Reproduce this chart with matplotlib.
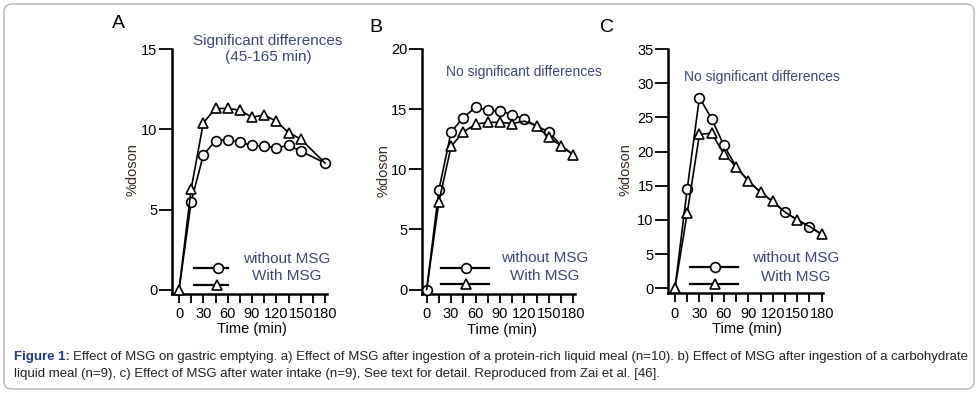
import numpy as np
import matplotlib.pyplot as plt
from matplotlib.patches import FancyBboxPatch
from matplotlib.ticker import MultipleLocator

plt.rcParams['font.family'] = ['Liberation Sans', 'DejaVu Sans']

# time points (min)
times = [0, 15, 30, 45, 60, 75, 90, 105, 120, 135, 150, 165, 180]
times_a = [0, 15, 30, 45, 60, 75, 90, 105, 120, 135, 150, 180]

# A: protein-rich liquid meal
a_without = [0, 5.5, 8.4, 9.3, 9.35, 9.2, 9.0, 8.95, 8.85, 9.0, 8.65, 7.9]
a_with = [0, 6.3, 10.4, 11.3, 11.3, 11.2, 10.75, 10.9, 10.5, 9.8, 9.4, 7.9]

# B: carbohydrate liquid meal
b_without = [0, 8.3, 13.1, 14.3, 15.15, 14.9, 14.85, 14.55, 14.15, 13.6, 13.1, 11.95, 11.2]
b_with = [0, 7.3, 11.9, 13.1, 13.75, 13.9, 13.9, 13.8, 14.0, 13.6, 12.65, 11.95, 11.2]

# C: water
c_without = [0, 14.5, 27.9, 24.8, 20.9, 17.8, 15.7, 14.05, 12.7, 11.1, 10.05, 9.0, 7.9]
c_with = [0, 11.0, 22.5, 22.7, 19.65, 17.8, 15.7, 14.05, 12.7, 11.15, 10.0, 9.05, 7.9]

x_ticks = [0, 30, 60, 90, 120, 150, 180]
series_names = ['without MSG', 'With MSG']

txt_col = '#3c4872'
lab_col = '#3d2b22'

fig = plt.figure(figsize=(9.78, 3.96), dpi=100)

# rounded grey frame
fig.patches.append(FancyBboxPatch((4 / 978, 7 / 396), 970 / 978, 385 / 396,
                                  boxstyle='round,pad=0,rounding_size=0.008',
                                  transform=fig.transFigure, fill=False,
                                  ec='#b4b4b4', lw=1.0, mutation_aspect=978 / 396))

panels = [
    dict(letter='A', rect=[0.1759, 0.2588, 0.1585, 0.6174], xlim=(-8.6, 182.5), ylim=(-0.22, 15),
         yticks=[0, 5, 10, 15], t_wo=times_a, wo=a_without, t_w=times_a, w=a_with,
         show_wo=list(range(1, 12)), show_w=list(range(0, 11)),
         note='Significant differences\n(45-165 min)', note_xy=(0.62, 1.0), note_size=11,
         leg_line=(0.14, 0.363), leg_y=(0.103, 0.035), leg_mk=(0.299, 0.289),
         leg_tx=0.74, leg_ty=(0.143, 0.07), ylab_x=-0.252, xlab_x=0.516,
         letter_xy=(118, 24)),
    dict(letter='B', rect=[0.4312, 0.2576, 0.1567, 0.6187], xlim=(-6.1, 182), ylim=(-0.37, 20),
         yticks=[0, 5, 10, 15, 20], t_wo=times, wo=b_without, t_w=times, w=b_with,
         show_wo=[0, 1, 2, 3, 4, 5, 6, 7, 8, 10], show_w=[1, 2, 3, 4, 5, 6, 7, 9, 10, 11, 12],
         note='No significant differences', note_xy=(0.667, 0.906), note_size=10,
         leg_line=(0.123, 0.437), leg_y=(0.107, 0.041), leg_mk=(0.29, 0.29),
         leg_tx=0.805, leg_ty=(0.146, 0.073), ylab_x=-0.25, xlab_x=0.522,
         letter_xy=(376, 27)),
    dict(letter='C', rect=[0.6833, 0.2593, 0.1579, 0.6169], xlim=(-8.2, 181.2), ylim=(-0.73, 35),
         yticks=[0, 5, 10, 15, 20, 25, 30, 35], t_wo=times, wo=c_without, t_w=times, w=c_with,
         show_wo=[1, 2, 3, 4, 9, 11], show_w=[0, 1, 2, 3, 4, 5, 6, 7, 8, 10, 12],
         note='No significant differences', note_xy=(0.607, 0.885), note_size=10,
         leg_line=(0.138, 0.449), leg_y=(0.109, 0.038), leg_mk=(0.302, 0.302),
         leg_tx=0.823, leg_ty=(0.143, 0.068), ylab_x=-0.28, xlab_x=0.508,
         letter_xy=(607, 28)),
]

mk = dict(color='black', lw=1.2, mfc='white', mec='black', mew=1.2, ms=7)

for p in panels:
    ax = fig.add_axes(p['rect'])
    ax.plot(p['t_wo'], p['wo'], marker='o', markevery=p['show_wo'], zorder=3, clip_on=False, **mk)
    ax.plot(p['t_w'], p['w'], marker='^', markevery=p['show_w'], zorder=4, clip_on=False, **mk)

    ax.set_xlim(p['xlim'])
    ax.set_ylim(p['ylim'])
    ax.set_xticks(x_ticks)
    ax.xaxis.set_minor_locator(MultipleLocator(15))
    ax.set_yticks(p['yticks'])
    for s in ['top', 'right']:
        ax.spines[s].set_visible(False)
    for s in ['left', 'bottom']:
        ax.spines[s].set_linewidth(1.8)
    ax.tick_params(axis='x', which='both', length=6.5, width=1.3, pad=3, labelsize=10.5)
    ax.tick_params(axis='y', length=9.5, width=1.3, pad=1, labelsize=10.5)

    ax.set_ylabel('%doson', fontsize=10.5, color=lab_col, va='center')
    ax.yaxis.set_label_coords(p['ylab_x'], 0.505)
    ax.set_xlabel('Time (min)', fontsize=10.5, va='center')
    ax.xaxis.set_label_coords(p['xlab_x'], -0.145)

    ax.text(p['note_xy'][0], p['note_xy'][1], p['note'], transform=ax.transAxes,
            ha='center', va='center', fontsize=p['note_size'], color=txt_col, linespacing=1.15)

    # hand-made legend
    x0, x1 = p['leg_line']
    for i, m in enumerate(['o', '^']):
        ax.plot([x0, x1], [p['leg_y'][i]] * 2, color='black', lw=1.6,
                transform=ax.transAxes, clip_on=False)
        ax.plot([p['leg_mk'][i]], [p['leg_y'][i]], marker=m, ls='none', ms=7,
                mfc='white', mec='black', mew=1.2, transform=ax.transAxes, clip_on=False)
        ax.text(p['leg_tx'], p['leg_ty'][i], series_names[i], transform=ax.transAxes,
                ha='center', va='center', fontsize=11, color=txt_col)

    fig.text(p['letter_xy'][0] / 978, 1 - p['letter_xy'][1] / 396, p['letter'],
             ha='center', va='center', fontsize=14)

# caption
line1 = ('Effect of MSG on gastric emptying. a) Effect of MSG after ingestion of a protein-rich '
         'liquid meal (n=10). b) Effect of MSG after ingestion of a carbohydrate')
line2 = ('liquid meal (n=9), c) Effect of MSG after water intake (n=9), See text for detail. '
         'Reproduced from Zai et al. [46].')
cx = 14 / 978
head = fig.text(cx, 1 - 357 / 396, 'Figure 1:', fontsize=9.5, fontweight='bold',
                color='#1f3c73', va='center')
fig.canvas.draw()
bb = head.get_window_extent()
fig.text(bb.x1 / 978 + 3 / 978, 1 - 357 / 396, line1, fontsize=9.5, color='#222222', va='center')
fig.text(cx, 1 - 374 / 396, line2, fontsize=9.5, color='#222222', va='center')

fig.savefig('out.png', dpi=100)
